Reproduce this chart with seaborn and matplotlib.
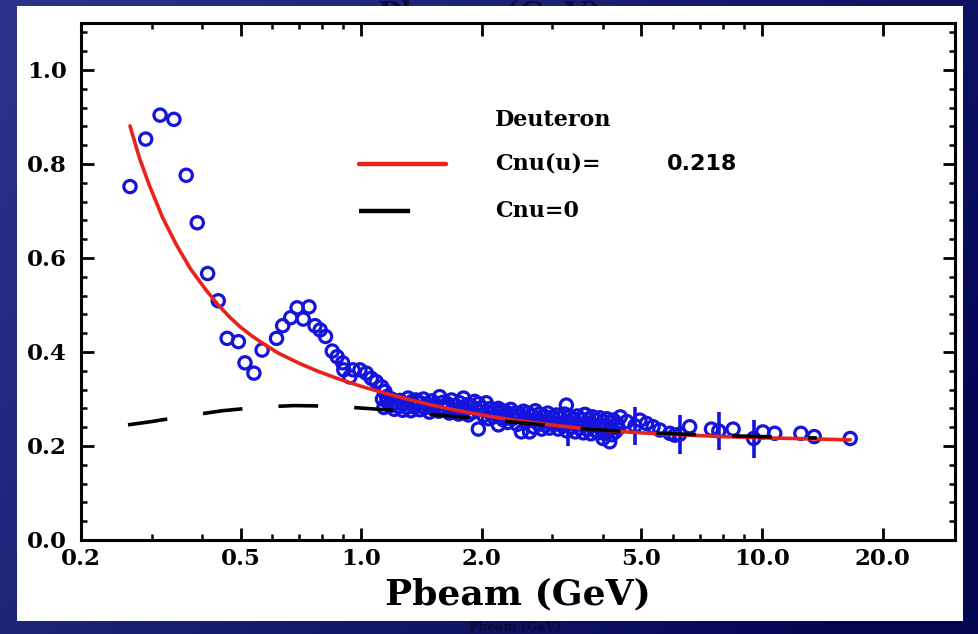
import numpy as np
import pandas as pd
import matplotlib
matplotlib.use("Agg")
import matplotlib.pyplot as plt
import seaborn as sns
from matplotlib.patches import Rectangle
from matplotlib.lines import Line2D
from matplotlib.ticker import FixedLocator, FixedFormatter, NullFormatter

sns.set_theme(style="white")
plt.rcParams['font.family'] = ['DejaVu Serif', 'DejaVu Sans']

# ---------------- data ----------------
# low-momentum points (resonance region)
low_x = [0.265, 0.290, 0.315, 0.341, 0.366, 0.390, 0.414, 0.440, 0.463, 0.494,
         0.513, 0.540, 0.566, 0.615, 0.637, 0.667, 0.692, 0.717, 0.741, 0.767,
         0.790, 0.815, 0.847, 0.871, 0.899, 0.905, 0.937, 0.955, 0.993, 1.03,
         1.06, 1.09, 1.125, 1.146, 1.157]
low_y = [0.752, 0.853, 0.904, 0.895, 0.776, 0.675, 0.567, 0.509, 0.429, 0.422,
         0.377, 0.355, 0.404, 0.429, 0.456, 0.473, 0.494, 0.470, 0.496, 0.456,
         0.447, 0.433, 0.402, 0.390, 0.377, 0.362, 0.347, 0.362, 0.362, 0.355,
         0.344, 0.337, 0.326, 0.316, 0.305]

# dense band 1.1 - 4.5 GeV
band_x = [1.13, 1.16, 1.19, 1.22, 1.25, 1.28, 1.31, 1.34, 1.37, 1.40, 1.43, 1.46,
          1.50, 1.53, 1.57, 1.60, 1.64, 1.68, 1.72, 1.76, 1.80, 1.84, 1.88, 1.92,
          1.96, 2.00, 2.05, 2.10, 2.15, 2.20, 2.25, 2.30, 2.36, 2.42, 2.48, 2.54,
          2.60, 2.66, 2.72, 2.78, 2.85, 2.92, 3.00, 3.07, 3.14, 3.22, 3.25, 3.30,
          3.38, 3.46, 3.55, 3.62, 3.70, 3.78, 3.86, 3.94, 4.02, 4.10, 4.18, 4.26,
          4.35, 4.43,
          1.14, 1.18, 1.21, 1.24, 1.27, 1.30, 1.33, 1.36, 1.40, 1.44, 1.48, 1.52,
          1.56, 1.61, 1.66, 1.70, 1.75, 1.80, 1.85, 1.90, 1.96, 2.02, 2.08, 2.14,
          2.20, 2.26, 2.32, 2.38, 2.45, 2.51, 2.58, 2.63, 2.70, 2.76, 2.82, 2.88,
          2.95, 3.02, 3.10, 3.18, 3.26, 3.34, 3.42, 3.50, 3.58, 3.61, 3.66, 3.74,
          3.82, 3.90, 3.98, 4.01, 4.06, 4.14, 4.17, 4.22, 4.30, 4.38,
          1.20, 1.35, 1.50, 1.65, 1.80, 1.95, 2.10, 2.25, 2.40, 2.55, 2.70, 2.85,
          3.00, 3.15, 3.30, 3.45, 3.60, 3.75, 3.90, 4.05, 4.20, 4.35]
band_y = [0.300, 0.296, 0.300, 0.292, 0.297, 0.290, 0.302, 0.295, 0.298, 0.292, 0.300, 0.290,
          0.296, 0.288, 0.305, 0.293, 0.290, 0.298, 0.286, 0.292, 0.302, 0.288, 0.285, 0.295,
          0.290, 0.282, 0.292, 0.280, 0.276, 0.280, 0.275, 0.272, 0.278, 0.270, 0.268, 0.274,
          0.270, 0.266, 0.275, 0.268, 0.264, 0.270, 0.262, 0.266, 0.260, 0.268, 0.287, 0.262,
          0.258, 0.264, 0.256, 0.267, 0.258, 0.262, 0.255, 0.260, 0.252, 0.258, 0.250, 0.255,
          0.248, 0.262,
          0.282, 0.286, 0.278, 0.284, 0.276, 0.282, 0.275, 0.283, 0.277, 0.281, 0.272, 0.279,
          0.274, 0.280, 0.270, 0.276, 0.268, 0.274, 0.266, 0.272, 0.236, 0.265, 0.258, 0.262,
          0.245, 0.256, 0.250, 0.258, 0.246, 0.230, 0.252, 0.230, 0.240, 0.248, 0.236, 0.244,
          0.238, 0.246, 0.236, 0.242, 0.232, 0.240, 0.230, 0.238, 0.228, 0.267, 0.236, 0.226,
          0.234, 0.228, 0.236, 0.216, 0.226, 0.232, 0.209, 0.224, 0.230, 0.238,
          0.290, 0.288, 0.285, 0.282, 0.280, 0.276, 0.270, 0.265, 0.262, 0.258, 0.255, 0.252,
          0.250, 0.248, 0.250, 0.246, 0.245, 0.244, 0.242, 0.243, 0.240, 0.245]

# high-momentum points
high_x = [4.60, 4.82, 4.96, 5.15, 5.35, 5.56, 5.89, 6.06, 6.23, 6.60, 7.48, 7.80,
          8.47, 9.53, 10.05, 10.76, 12.5, 13.5, 16.6]
high_y = [0.252, 0.243, 0.255, 0.248, 0.241, 0.234, 0.227, 0.223, 0.225, 0.241, 0.236, 0.232,
          0.236, 0.216, 0.230, 0.227, 0.227, 0.220, 0.216]

# error bars (x, lower, upper)
err_x = [3.28, 4.82, 6.23, 7.80, 9.53]
err_lo = [0.200, 0.202, 0.184, 0.191, 0.174]
err_hi = [0.255, 0.284, 0.266, 0.273, 0.255]

# model curves
red_x = [0.265, 0.28, 0.297, 0.32, 0.346, 0.375, 0.41, 0.44, 0.47, 0.50, 0.53, 0.56,
         0.62, 0.70, 0.78, 0.87, 1.0, 1.15, 1.3, 1.5, 1.75, 2.0, 2.4, 2.9, 3.5, 4.2,
         5.0, 6.2, 8.0, 10.5, 13.5, 16.6]
red_y = [0.881, 0.812, 0.752, 0.685, 0.628, 0.577, 0.532, 0.500, 0.474, 0.453, 0.436, 0.422,
         0.398, 0.376, 0.359, 0.344, 0.327, 0.312, 0.300, 0.287, 0.275, 0.266, 0.255, 0.246,
         0.238, 0.232, 0.228, 0.224, 0.220, 0.217, 0.215, 0.213]
blk_x = [0.262, 0.30, 0.367, 0.45, 0.565, 0.68, 0.81, 0.95, 1.16, 1.45, 1.91, 2.6,
         3.78, 5.0, 6.45, 9.0, 13.7]
blk_y = [0.245, 0.252, 0.264, 0.275, 0.283, 0.286, 0.285, 0.282, 0.277, 0.268, 0.259,
         0.248, 0.235, 0.229, 0.225, 0.221, 0.217]

xticks = [0.2, 0.5, 1.0, 2.0, 5.0, 10.0, 20.0]
xtick_labels = ["0.2", "0.5", "1.0", "2.0", "5.0", "10.0", "20.0"]
xminor = [0.3, 0.4, 0.6, 0.7, 0.8, 0.9, 3, 4, 6, 7, 8, 9]
yticks = [0.0, 0.2, 0.4, 0.6, 0.8, 1.0]
ytick_labels = ["0.0", "0.2", "0.4", "0.6", "0.8", "1.0"]
legend_title = "Deuteron"
legend_labels = ["Cnu(u)=", "Cnu=0"]
cnu_value = "0.218"

points = pd.DataFrame({"P": low_x + band_x + high_x, "C": low_y + band_y + high_y})
red_df = pd.DataFrame({"P": red_x, "C": red_y})
blk_df = pd.DataFrame({"P": blk_x, "C": blk_y})

# ---------------- figure ----------------
W, H = 979, 634
fig = plt.figure(figsize=(W / 100, H / 100), dpi=100)

bg = fig.add_axes([0, 0, 1, 1], zorder=0)
gx = np.linspace(0, 1, 300)
gy = np.linspace(0, 1, 300)
GX, GY = np.meshgrid(gx, gy)
t = np.clip(0.75 * GX + 0.35 * GY, 0, 1)
c0 = np.array([0x2c, 0x33, 0x8c]) / 255
c1 = np.array([0x03, 0x07, 0x52]) / 255
img = c0[None, None, :] * (1 - t[..., None]) + c1[None, None, :] * t[..., None]
bg.imshow(img, aspect='auto', extent=[0, 1, 0, 1], origin='upper', zorder=0)
bg.set_xlim(0, 1)
bg.set_ylim(0, 1)
bg.set_axis_off()
# ghost titles of the slide, mostly hidden behind the white panel
bg.text(490 / W, 1 - 16 / H, "Pbeam (GeV)", ha='center', va='center', fontsize=22,
        fontweight='bold', color='#0a0c3e', zorder=1)
bg.text(515 / W, 1 - 627.5 / H, "Pbeam (GeV)", ha='center', va='center', fontsize=9,
        fontweight='bold', color='#080a38', zorder=1)
bg.add_patch(Rectangle((17 / W, 1 - 621 / H), (963 - 17) / W, (621 - 6) / H,
                       facecolor='white', edgecolor='none', zorder=2))

ax = fig.add_axes([81 / W, (H - 540) / H, (955 - 81) / W, (540 - 23) / H], zorder=3)
ax.set_facecolor('white')

blue = '#1414dc'
ax.vlines(err_x, err_lo, err_hi, color=blue, linewidth=2.6, zorder=3)
sns.scatterplot(data=points, x="P", y="C", ax=ax, marker='o', s=78,
                facecolors='none', edgecolor=blue, linewidth=2.3, zorder=4, legend=False)
sns.lineplot(data=red_df, x="P", y="C", ax=ax, color='#e8231c', linewidth=2.6,
             sort=False, estimator=None, zorder=5)
sns.lineplot(data=blk_df, x="P", y="C", ax=ax, color='black', linewidth=2.6,
             sort=False, estimator=None, zorder=5, dashes=False)
ax.lines[-1].set_dashes([11, 10])

ax.set_xscale('log')
ax.set_xlim(0.2, 30.3)
ax.set_ylim(0.0, 1.1)

ax.xaxis.set_major_locator(FixedLocator(xticks))
ax.xaxis.set_major_formatter(FixedFormatter(xtick_labels))
ax.xaxis.set_minor_locator(FixedLocator(xminor))
ax.xaxis.set_minor_formatter(NullFormatter())
ax.yaxis.set_major_locator(FixedLocator(yticks))
ax.yaxis.set_major_formatter(FixedFormatter(ytick_labels))
ax.yaxis.set_minor_locator(FixedLocator(list(np.arange(0.04, 1.1, 0.04))))

for sp in ax.spines.values():
    sp.set_visible(True)
    sp.set_color('black')
    sp.set_linewidth(2.2)

ax.tick_params(which='major', direction='in', length=9, width=2.0, top=True, right=True,
               bottom=True, left=True, color='black', labelsize=16.5, pad=6)
ax.tick_params(which='minor', direction='in', length=4.5, width=1.8, top=True, right=True,
               bottom=True, left=True, color='black')
ax.tick_params(axis='y', which='major', pad=10)
for lab in ax.get_xticklabels() + ax.get_yticklabels():
    lab.set_fontweight('bold')
    lab.set_color('black')

ax.set_xlabel("Pbeam (GeV)", fontsize=26, fontweight='bold', color='black', labelpad=5)
ax.set_ylabel("")

# legend (drawn by hand to match layout)
fig.text(495 / W, 1 - 120 / H, legend_title, fontsize=16, fontweight='bold',
         va='center', ha='left', color='black')
fig.text(495 / W, 1 - 164 / H, legend_labels[0], fontsize=16, fontweight='bold',
         va='center', ha='left', color='black')
fig.text(667 / W, 1 - 164 / H, cnu_value, fontsize=16, fontweight='bold',
         va='center', ha='left', color='black', family=['DejaVu Sans'])
fig.text(495 / W, 1 - 211 / H, legend_labels[1], fontsize=16, fontweight='bold',
         va='center', ha='left', color='black')
fig.add_artist(Line2D([359 / W, 446 / W], [1 - 164 / H, 1 - 164 / H], color='#e8231c',
                      linewidth=3.2, transform=fig.transFigure, zorder=6))
fig.add_artist(Line2D([359 / W, 446 / W], [1 - 211 / H, 1 - 211 / H], color='black',
                      linewidth=3.2, dashes=[11.5, 10.5], transform=fig.transFigure, zorder=6))

fig.savefig("out.png", dpi=100)
